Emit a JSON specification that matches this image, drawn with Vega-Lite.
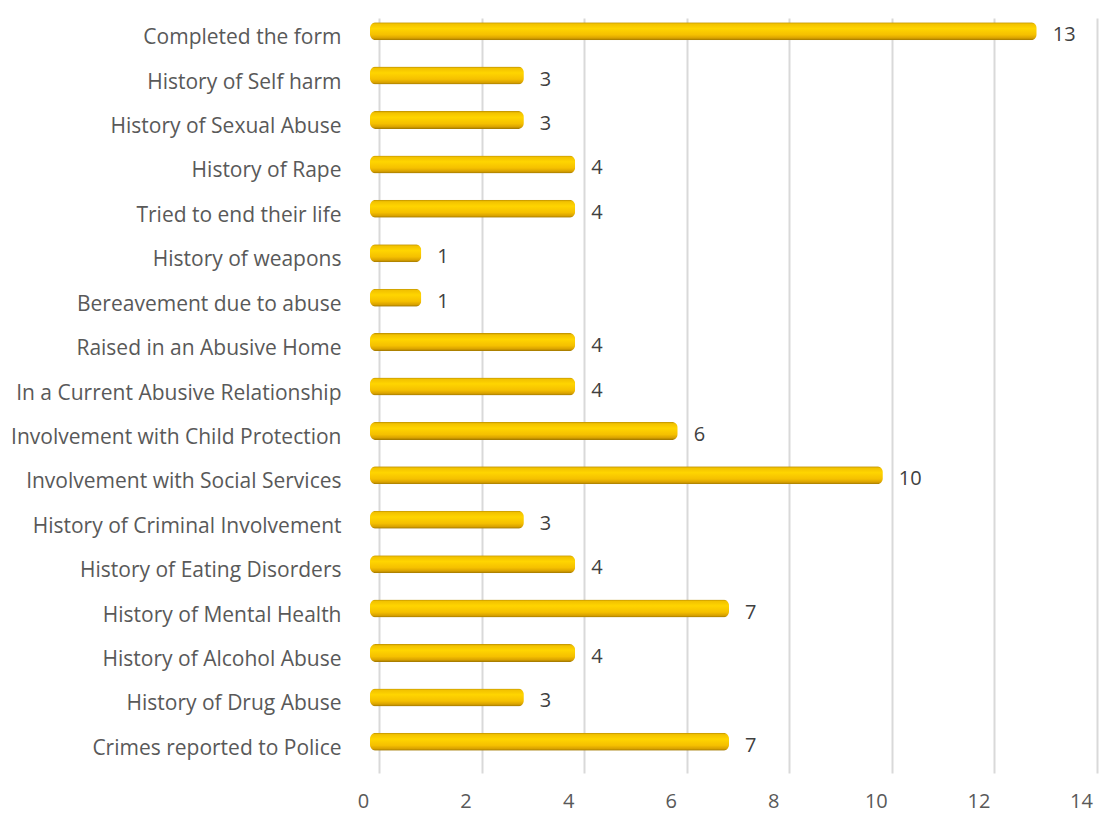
{
  "$schema": "https://vega.github.io/schema/vega-lite/v6.json",
  "width": 718,
  "height": 755,
  "autosize": {"type": "none"},
  "padding": {"left": 370, "top": 9, "right": 11, "bottom": 50},
  "background": "white",
  "config": {"view": {"stroke": null}, "font": "Open Sans"},
  "data": {
    "values": [
      {"item": "Completed the form", "count": 13},
      {"item": "History of Self harm", "count": 3},
      {"item": "History of Sexual Abuse ", "count": 3},
      {"item": "History of Rape", "count": 4},
      {"item": "Tried to end their life", "count": 4},
      {"item": "History of weapons ", "count": 1},
      {"item": "Bereavement due to abuse", "count": 1},
      {"item": "Raised in an Abusive Home", "count": 4},
      {"item": "In a Current Abusive Relationship", "count": 4},
      {"item": "Involvement with Child Protection", "count": 6},
      {"item": "Involvement with Social Services", "count": 10},
      {"item": "History of Criminal Involvement", "count": 3},
      {"item": "History of Eating Disorders", "count": 4},
      {"item": "History of Mental Health", "count": 7},
      {"item": "History of Alcohol Abuse", "count": 4},
      {"item": "History of Drug Abuse", "count": 3},
      {"item": "Crimes reported to Police", "count": 7}
    ]
  },
  "encoding": {
    "y": {
      "field": "item",
      "type": "nominal",
      "sort": null,
      "title": null,
      "scale": {"paddingInner": 0, "paddingOuter": 0},
      "axis": {
        "domain": false,
        "ticks": false,
        "grid": false,
        "labelFontSize": 21,
        "labelColor": "#595959",
        "labelPadding": 29,
        "labelOffset": 7,
        "labelLimit": 400
      }
    },
    "x": {
      "field": "count",
      "type": "quantitative",
      "title": null,
      "scale": {"domain": [0, 14], "nice": false},
      "axis": {
        "values": [0, 2, 4, 6, 8, 10, 12, 14],
        "translate": 9.5,
        "domain": false,
        "ticks": false,
        "grid": true,
        "gridColor": "#D9D9D9",
        "gridWidth": 2,
        "labelFontSize": 20,
        "labelColor": "#595959",
        "labelPadding": 18,
        "labelOffset": -16,
        "labelFlush": false
      }
    }
  },
  "layer": [
    {
      "mark": {
        "type": "bar",
        "size": 18,
        "cornerRadius": 6,
        "color": {
          "gradient": "linear",
          "x1": 0, "y1": 0, "x2": 0, "y2": 1,
          "stops": [
            {"offset": 0, "color": "#B98C00"},
            {"offset": 0.1, "color": "#F2C200"},
            {"offset": 0.35, "color": "#FFD500"},
            {"offset": 0.7, "color": "#F5C000"},
            {"offset": 0.88, "color": "#D9A200"},
            {"offset": 1, "color": "#9C7400"}
          ]
        }
      }
    },
    {
      "mark": {
        "type": "text",
        "align": "left",
        "baseline": "middle",
        "dx": 16,
        "dy": 4,
        "fontSize": 20,
        "color": "#404040"
      },
      "encoding": {"text": {"field": "count", "type": "quantitative"}}
    }
  ]
}
